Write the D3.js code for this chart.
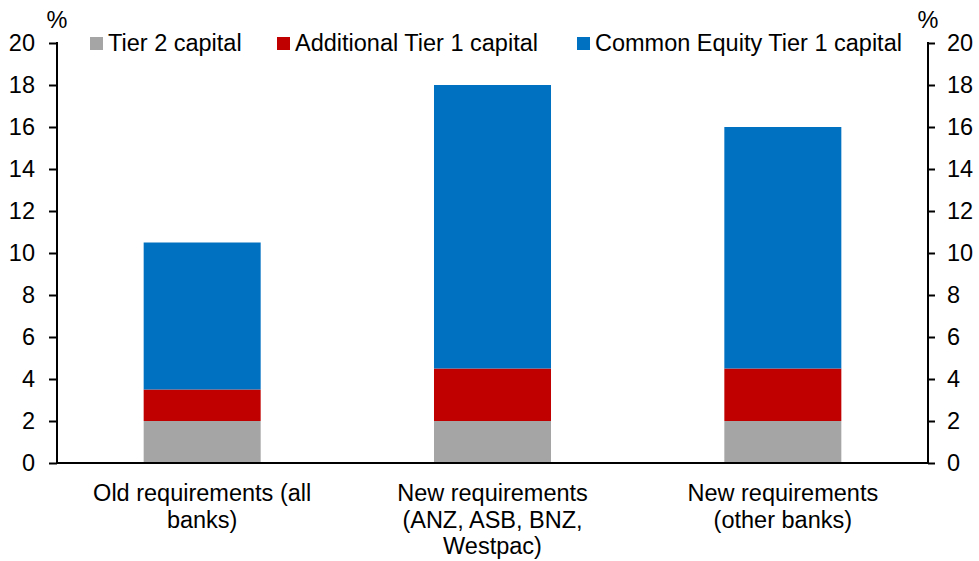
<!DOCTYPE html>
<html>
<head>
<meta charset="utf-8">
<script src="https://cdn.jsdelivr.net/npm/d3@7"></script>
<style>
  body { margin: 0; background: #fff; }
  svg text { font-family: "Liberation Sans", Arial, sans-serif; fill: #000; }
</style>
</head>
<body>
<div id="chart"></div>
<script>
// Data
const categories = [
    ['Old requirements (all', 'banks)'],
    ['New requirements', '(ANZ, ASB, BNZ,', 'Westpac)'],
    ['New requirements', '(other banks)']
];
const tier2 = [2, 2, 2];
const additionalTier1 = [1.5, 2.5, 2.5];
const commonEquityTier1 = [7, 13.5, 11.5];
const yTicks = [0, 2, 4, 6, 8, 10, 12, 14, 16, 18, 20];

const seriesNames = ['Tier 2 capital', 'Additional Tier 1 capital', 'Common Equity Tier 1 capital'];
const seriesColors = ['#a5a5a5', '#c00000', '#0070c0'];

const width = 979;
const height = 561;
const margin = { top: 43, right: 51, bottom: 98, left: 57 };
const fontSize = '23.5px';

const svg = d3.select('#chart')
    .append('svg')
    .attr('width', width)
    .attr('height', height);

const x = d3.scaleBand()
    .domain(d3.range(categories.length))
    .range([margin.left, width - margin.right])
    .paddingInner(0.597)
    .paddingOuter(0.2985);

const y = d3.scaleLinear()
    .domain([0, 20])
    .range([height - margin.bottom, margin.top]);

// stack the series
const rows = categories.map((c, i) => ({
    i: i,
    t2: tier2[i],
    at1: additionalTier1[i],
    cet1: commonEquityTier1[i]
}));
const stacked = d3.stack().keys(['t2', 'at1', 'cet1'])(rows);

svg.append('g')
    .selectAll('g')
    .data(stacked)
    .enter()
    .append('g')
    .attr('fill', (d, i) => seriesColors[i])
    .selectAll('rect')
    .data(d => d)
    .enter()
    .append('rect')
    .attr('x', d => x(d.data.i))
    .attr('width', x.bandwidth())
    .attr('y', d => y(d[1]))
    .attr('height', d => y(d[0]) - y(d[1]));

// Axes
const leftAxis = svg.append('g')
    .attr('transform', 'translate(' + margin.left + ',0)')
    .call(d3.axisLeft(y).tickValues(yTicks).tickSize(8).tickPadding(14));

const rightAxis = svg.append('g')
    .attr('transform', 'translate(' + (width - margin.right) + ',0)')
    .call(d3.axisRight(y).tickValues(yTicks).tickSize(7).tickPadding(12));

[leftAxis, rightAxis].forEach(a => {
    a.attr('font-family', null).attr('font-size', null);
    a.select('.domain').remove();
    a.selectAll('.tick line').attr('stroke', '#000').attr('stroke-width', 2);
    a.selectAll('.tick text').style('font-size', fontSize);
});

svg.append('line')
    .attr('x1', margin.left).attr('x2', margin.left)
    .attr('y1', y(20) - 1).attr('y2', y(0) + 1)
    .attr('stroke', '#000').attr('stroke-width', 2);
svg.append('line')
    .attr('x1', width - margin.right).attr('x2', width - margin.right)
    .attr('y1', y(20) - 1).attr('y2', y(0) + 1)
    .attr('stroke', '#000').attr('stroke-width', 2);

// x baseline
svg.append('line')
    .attr('x1', margin.left).attr('x2', width - margin.right)
    .attr('y1', y(0)).attr('y2', y(0))
    .attr('stroke', '#000').attr('stroke-width', 2);

// % labels
svg.append('text')
    .attr('x', margin.left).attr('y', 28)
    .attr('text-anchor', 'middle')
    .style('font-size', fontSize)
    .text('%');
svg.append('text')
    .attr('x', width - margin.right).attr('y', 28)
    .attr('text-anchor', 'middle')
    .style('font-size', fontSize)
    .text('%');

// Category labels
const catLabels = svg.append('g');
categories.forEach((lines, i) => {
    const t = catLabels.append('text')
        .attr('text-anchor', 'middle')
        .style('font-size', fontSize);
    lines.forEach((line, j) => {
        t.append('tspan')
            .attr('x', x(i) + x.bandwidth() / 2)
            .attr('y', 501 + j * 26.5)
            .text(line);
    });
});

// Legend
const legendX = [90, 277, 577];
const legend = svg.append('g');
seriesNames.forEach((name, i) => {
    legend.append('rect')
        .attr('x', legendX[i])
        .attr('y', 37)
        .attr('width', 13)
        .attr('height', 13)
        .attr('fill', seriesColors[i]);
    legend.append('text')
        .attr('x', legendX[i] + 18)
        .attr('y', 51)
        .style('font-size', fontSize)
        .text(name);
});
</script>
</body>
</html>
